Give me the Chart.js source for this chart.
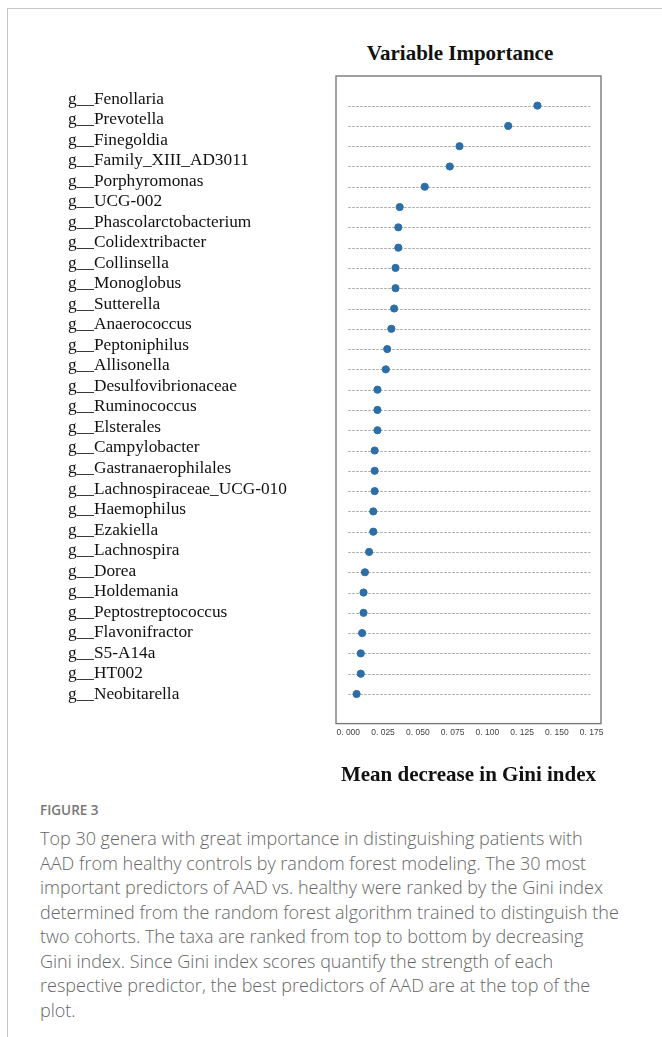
<!DOCTYPE html>
<html>
<head>
<meta charset="utf-8">
<script src="https://cdn.jsdelivr.net/npm/chart.js@4/dist/chart.umd.min.js"></script>
<style>
  html, body { margin: 0; padding: 0; background: #fff; }
  body { width: 662px; height: 1037px; position: relative; overflow: hidden; }
  .frame {
    position: absolute; left: 7px; top: 8px; width: 700px; height: 1100px;
    border-left: 1.5px solid #c6c6c6; border-top: 1.5px solid #c6c6c6;
  }
  #chart { position: absolute; left: 0; top: 0; }
  .title {
    position: absolute; left: 260px; top: 40px; width: 400px; text-align: center;
    font: bold 21px "Liberation Serif", "Times New Roman", serif; color: #111; line-height: 26px;
  }
  .fig-label {
    position: absolute; left: 40px; top: 801px;
    font: 600 13.5px "Open Sans", sans-serif; color: #777;
  }
  .caption {
    position: absolute; left: 40px; top: 826px;
    font: 300 18px "Open Sans", sans-serif; color: #666; line-height: 24.5px; white-space: nowrap;
  }
</style>
</head>
<body>
<div class="frame"></div>
<div class="title">Variable Importance</div>
<canvas id="chart" width="662" height="790"></canvas>
<div class="fig-label">FIGURE 3</div>
<div class="caption">
Top 30 genera with great importance in distinguishing patients with<br>
AAD from healthy controls by random forest modeling. The 30 most<br>
important predictors of AAD vs. healthy were ranked by the Gini index<br>
determined from the random forest algorithm trained to distinguish the<br>
two cohorts. The taxa are ranked from top to bottom by decreasing<br>
Gini index. Since Gini index scores quantify the strength of each<br>
respective predictor, the best predictors of AAD are at the top of the<br>
plot.
</div>
<script>
// genera ranked by mean decrease in Gini index
const genera = [
  'g__Fenollaria', 'g__Prevotella', 'g__Finegoldia', 'g__Family_XIII_AD3011',
  'g__Porphyromonas', 'g__UCG-002', 'g__Phascolarctobacterium', 'g__Colidextribacter',
  'g__Collinsella', 'g__Monoglobus', 'g__Sutterella', 'g__Anaerococcus',
  'g__Peptoniphilus', 'g__Allisonella', 'g__Desulfovibrionaceae', 'g__Ruminococcus',
  'g__Elsterales', 'g__Campylobacter', 'g__Gastranaerophilales', 'g__Lachnospiraceae_UCG-010',
  'g__Haemophilus', 'g__Ezakiella', 'g__Lachnospira', 'g__Dorea',
  'g__Holdemania', 'g__Peptostreptococcus', 'g__Flavonifractor', 'g__S5-A14a',
  'g__HT002', 'g__Neobitarella'
];
const giniDecrease = [
  0.136, 0.115, 0.080, 0.073,
  0.055, 0.037, 0.036, 0.036,
  0.034, 0.034, 0.033, 0.031,
  0.028, 0.027, 0.021, 0.021,
  0.021, 0.019, 0.019, 0.019,
  0.018, 0.018, 0.015, 0.012,
  0.011, 0.011, 0.010, 0.009,
  0.009, 0.006
];
const xTicks = [0, 0.025, 0.05, 0.075, 0.1, 0.125, 0.15, 0.175];
const xTickLabels = ['0. 000', '0. 025', '0. 050', '0. 075', '0. 100', '0. 125', '0. 150', '0. 175'];
const guideEnd = 0.174;

// dotted guide line behind every row
const guideLines = {
  id: 'guideLines',
  beforeDatasetsDraw(chart) {
    const ctx = chart.ctx;
    const xs = chart.scales.x, ys = chart.scales.y;
    ctx.save();
    ctx.strokeStyle = '#a8a8a8';
    ctx.lineWidth = 1;
    ctx.setLineDash([2.5, 1.5]);
    for (let i = 0; i < genera.length; i++) {
      const y = Math.round(ys.getPixelForValue(i)) + 0.5;
      ctx.beginPath();
      ctx.moveTo(xs.getPixelForValue(0), y);
      ctx.lineTo(xs.getPixelForValue(guideEnd), y);
      ctx.stroke();
    }
    ctx.restore();
  }
};

// box round the plotting area
const plotBox = {
  id: 'plotBox',
  afterDraw(chart) {
    const a = chart.chartArea, ctx = chart.ctx;
    ctx.save();
    ctx.strokeStyle = '#7a7a7a';
    ctx.lineWidth = 1.4;
    ctx.strokeRect(a.left, a.top, a.right - a.left, a.bottom - a.top);
    ctx.restore();
  }
};

new Chart(document.getElementById('chart').getContext('2d'), {
  type: 'scatter',
  data: {
    datasets: [{
      data: giniDecrease.map((v, i) => ({ x: v, y: i })),
      backgroundColor: '#2e6ea6',
      borderColor: '#2e6ea6',
      pointRadius: 3.6,
      pointHoverRadius: 3.6,
      yAxisID: 'y'
    }]
  },
  options: {
    responsive: false,
    animation: false,
    devicePixelRatio: 1,
    layout: { padding: { left: 68, right: 61, top: 76, bottom: 2 } },
    plugins: { legend: { display: false }, tooltip: { enabled: false } },
    scales: {
      x: {
        type: 'linear',
        min: -0.0088,
        max: 0.1817,
        grid: { display: false, drawTicks: false },
        border: { display: false },
        afterBuildTicks: s => { s.ticks = xTicks.map(v => ({ value: v })); },
        ticks: {
          padding: 4,
          color: '#444',
          font: { family: 'Liberation Sans', size: 8.5 },
          callback: (v, i) => xTickLabels[i]
        },
        title: {
          display: true,
          text: 'Mean decrease in Gini index',
          color: '#111',
          font: { family: 'Liberation Serif', size: 21, weight: 'bold' },
          padding: { top: 21, bottom: 0 }
        }
      },
      y: {
        type: 'linear',
        display: false,
        reverse: true,
        min: -1.46,
        max: 30.46
      },
      yl: {
        type: 'linear',
        position: 'left',
        reverse: true,
        min: -1.12,
        max: 30.43,
        grid: { display: false, drawTicks: false },
        border: { display: false },
        afterBuildTicks: s => { s.ticks = genera.map((g, i) => ({ value: i })); },
        afterFit: s => { s.width = 268; },
        ticks: {
          autoSkip: false,
          crossAlign: 'far',
          padding: 0,
          color: '#111',
          font: { family: 'Liberation Serif', size: 17.3 },
          callback: v => genera[v]
        }
      }
    }
  },
  plugins: [guideLines, plotBox]
});
</script>
</body>
</html>
